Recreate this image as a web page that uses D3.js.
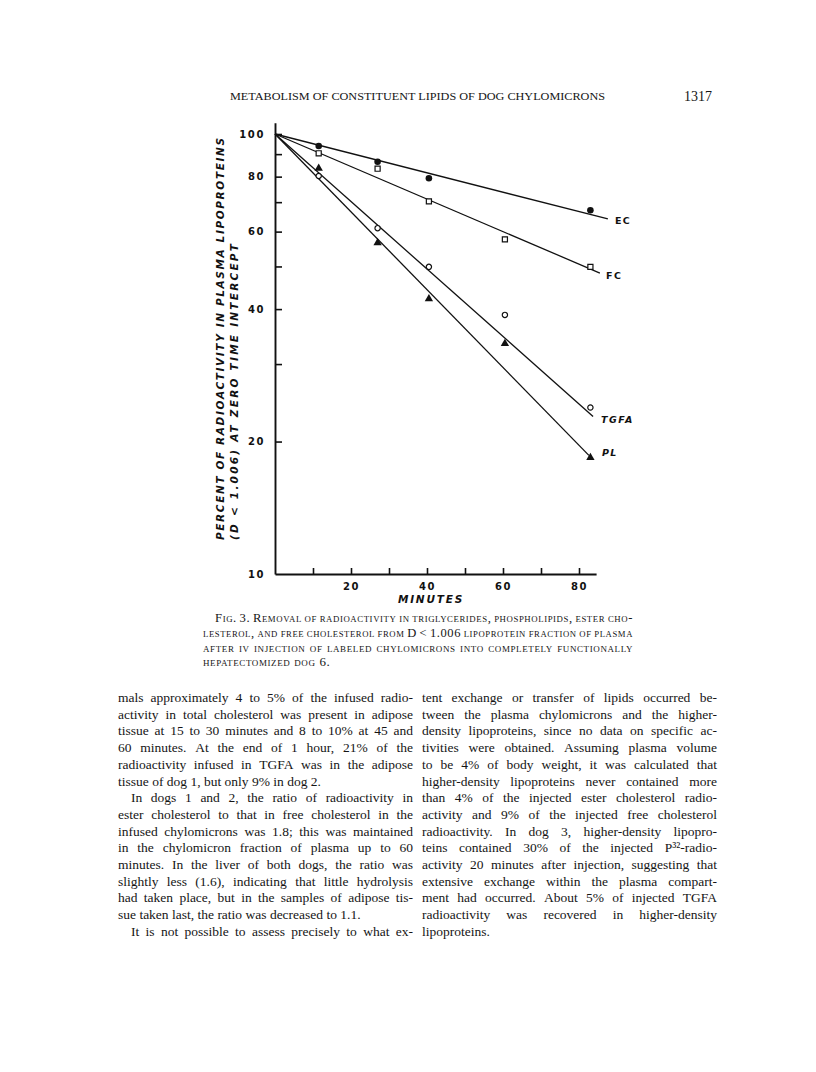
<!DOCTYPE html>
<html>
<head>
<meta charset="utf-8">
<script src="https://cdn.jsdelivr.net/npm/d3@7"></script>
<style>
  html, body { margin: 0; padding: 0; background: #fff; }
  svg { display: block; }
  .body-text { font-family: "Liberation Serif", "DejaVu Serif", serif; font-size: 13.5px; fill: #151515; }
  .caption { font-family: "Liberation Serif", serif; font-size: 13px; font-variant: small-caps; letter-spacing: 0.6px; fill: #151515; }
  .lettering { font-family: "DejaVu Sans", sans-serif; font-weight: bold; fill: #111; }
</style>
</head>
<body>
<div id="page"></div>
<script>
// page header
const headerTitle = "METABOLISM OF CONSTITUENT LIPIDS OF DOG CHYLOMICRONS";
const pageNumber = "1317";

// sampling times (minutes), shared by all four series
const minutes = [11.5, 27, 40.5, 60.5, 83];
// percent of radioactivity at zero time intercept, null where no point is drawn
const ecValues = [93.9, 86.5, 79.3, null, 67.1];
const fcValues = [90.4, 83.4, 70.3, 57.6, 49.9];
const tgfaValues = [80.3, 61.1, 49.9, 38.8, 23.9];
const plValues = [83.6, 56.6, 42.2, 33.4, 18.4];

// fitted regression lines all start at (0, 100)
const seriesNames = ["EC", "FC", "TGFA", "PL"];
const fitEndMinutes = [87.6, 85.5, 83.7, 82.6];
const fitEndValues = [64.1, 48.3, 22.8, 18.6];

// axes
const yTickValues = [100, 90, 80, 70, 60, 50, 40, 30, 20, 10];
const yTickLabels = ["100", "80", "60", "40", "20", "10"];
const xTickValues = [10, 20, 30, 40, 50, 60, 70, 80];
const xTickLabels = ["20", "40", "60", "80"];
const xTitle = "MINUTES";
const yTitleLines = ["PERCENT OF RADIOACTIVITY IN PLASMA LIPOPROTEINS", "(D < 1.006) AT ZERO TIME INTERCEPT"];

// figure legend (set in small caps)
const captionLines = [
    "Fig. 3.  Removal of radioactivity in triglycerides, phospholipids, ester cho-",
    "lesterol, and free cholesterol from D < 1.006 lipoprotein fraction of plasma",
    "after iv injection of labeled chylomicrons into completely functionally",
    "hepatectomized dog 6."
];

// running text, one entry per printed line
const leftColumn = [
    "mals approximately 4 to 5% of the infused radio-",
    "activity in total cholesterol was present in adipose",
    "tissue at 15 to 30 minutes and 8 to 10% at 45 and",
    "60 minutes.  At the end of 1 hour, 21% of the",
    "radioactivity infused in TGFA was in the adipose",
    "tissue of dog 1, but only 9% in dog 2.",
    "In dogs 1 and 2, the ratio of radioactivity in",
    "ester cholesterol to that in free cholesterol in the",
    "infused chylomicrons was 1.8; this was maintained",
    "in the chylomicron fraction of plasma up to 60",
    "minutes.  In the liver of both dogs, the ratio was",
    "slightly less (1.6), indicating that little hydrolysis",
    "had taken place, but in the samples of adipose tis-",
    "sue taken last, the ratio was decreased to 1.1.",
    "It is not possible to assess precisely to what ex-"
];
const leftIndentRows = [6, 14];
const leftLastRows = [5, 13];

const rightColumn = [
    "tent exchange or transfer of lipids occurred be-",
    "tween the plasma chylomicrons and the higher-",
    "density lipoproteins, since no data on specific ac-",
    "tivities were obtained.  Assuming plasma volume",
    "to be 4% of body weight, it was calculated that",
    "higher-density lipoproteins never contained more",
    "than 4% of the injected ester cholesterol radio-",
    "activity and 9% of the injected free cholesterol",
    "radioactivity.  In dog 3, higher-density lipopro-",
    "teins contained 30% of the injected P³²-radio-",
    "activity 20 minutes after injection, suggesting that",
    "extensive exchange within the plasma compart-",
    "ment had occurred.  About 5% of injected TGFA",
    "radioactivity was recovered in higher-density",
    "lipoproteins."
];
const rightIndentRows = [];
const rightLastRows = [14];

const width = 816, height = 1072;

const svg = d3.select("#page").append("svg")
    .attr("width", width)
    .attr("height", height);

svg.append("rect").attr("width", width).attr("height", height).attr("fill", "#fff");

// ---- running head
svg.append("text")
    .attr("x", 230).attr("y", 100)
    .attr("textLength", 375).attr("lengthAdjust", "spacingAndGlyphs")
    .style("font-family", "Liberation Serif, serif")
    .style("font-size", "11px")
    .style("fill", "#151515")
    .text(headerTitle);

svg.append("text")
    .attr("x", 712).attr("y", 101)
    .attr("text-anchor", "end")
    .style("font-family", "Liberation Serif, serif")
    .style("font-size", "14px")
    .style("fill", "#151515")
    .text(pageNumber);

// ---- chart
const x = d3.scaleLinear().domain([0, 80]).range([275, 579]);
const y = d3.scaleLog().domain([10, 100]).range([574, 134]);

const chart = svg.append("g");

// x axis, ticks pointing inwards
const xAxis = d3.axisBottom(x.copy().domain([0, 84.5]).range([x(0), x(84.5)]))
    .tickValues(xTickValues)
    .tickSizeInner(-6)
    .tickSizeOuter(0)
    .tickPadding(9)
    .tickFormat(d => xTickLabels.includes(String(d)) ? d : "");

const gx = chart.append("g")
    .attr("transform", `translate(0,${y(10)})`)
    .call(xAxis);

// y axis, log scale, ticks pointing inwards
const yAxisScale = y.copy().domain([10, 106]).range([y(10), y(106)]);
const yAxis = d3.axisLeft(yAxisScale)
    .tickValues(yTickValues)
    .tickSizeInner(-7)
    .tickSizeOuter(0)
    .tickPadding(10)
    .tickFormat(d => yTickLabels.includes(String(d)) ? d : "");

const gy = chart.append("g")
    .attr("transform", `translate(${x(0)},0)`)
    .call(yAxis);

gy.select(".tick:last-of-type line").remove();

[gx, gy].forEach(g => {
    g.select(".domain").attr("stroke", "#111").attr("stroke-width", 1.9);
    g.selectAll(".tick line").attr("stroke", "#111").attr("stroke-width", 1.6);
    g.selectAll(".tick text")
        .attr("class", "lettering")
        .style("font-size", "10px")
        .style("letter-spacing", "1.6px");
});

// axis titles
chart.append("text")
    .attr("class", "lettering")
    .attr("x", 431).attr("y", 603)
    .attr("text-anchor", "middle")
    .style("font-size", "10.5px")
    .style("font-style", "italic")
    .style("letter-spacing", "1.8px")
    .text(xTitle);

const yTitleX = [224, 238];
const yTitleLen = [402, 296];
yTitleLines.forEach((t, i) => {
    chart.append("text")
        .attr("class", "lettering")
        .attr("transform", `translate(${yTitleX[i]},540) rotate(-90)`)
        .attr("textLength", yTitleLen[i])
        .attr("lengthAdjust", "spacing")
        .style("font-size", "10.5px")
        .style("font-style", "italic")
        .text(t);
});

// fitted lines
const fitLine = d3.line().x(d => x(d[0])).y(d => y(d[1]));
const fits = seriesNames.map((name, i) => ({
    name,
    pts: [[0, 100], [fitEndMinutes[i], fitEndValues[i]]]
}));

chart.selectAll(".fit")
    .data(fits)
    .enter().append("path")
    .attr("class", "fit")
    .attr("d", d => fitLine(d.pts))
    .attr("fill", "none")
    .attr("stroke", "#111")
    .attr("stroke-width", 1.3);

// line labels, placed just past the end of each line
const labelOffset = { EC: [7, 5], FC: [6, 6], TGFA: [8, 6], PL: [13, 1] };
const labelItalic = { EC: false, FC: false, TGFA: true, PL: true };
chart.selectAll(".fit-label")
    .data(fits)
    .enter().append("text")
    .attr("class", "lettering")
    .attr("x", d => x(d.pts[1][0]) + labelOffset[d.name][0])
    .attr("y", d => y(d.pts[1][1]) + labelOffset[d.name][1])
    .style("font-size", "9.5px")
    .style("letter-spacing", "1.5px")
    .style("font-style", d => labelItalic[d.name] ? "italic" : "normal")
    .text(d => d.name);

// data points
const markerStyle = {
    EC:   { type: d3.symbolCircle, size: 34, fill: "#111", stroke: "none" },
    FC:   { type: d3.symbolSquare, size: 26, fill: "#fff", stroke: "#111" },
    TGFA: { type: d3.symbolCircle, size: 22, fill: "#fff", stroke: "#111" },
    PL:   { type: d3.symbolTriangle, size: 30, fill: "#111", stroke: "none" }
};
const seriesValues = { EC: ecValues, FC: fcValues, TGFA: tgfaValues, PL: plValues };

seriesNames.forEach(name => {
    const st = markerStyle[name];
    const pts = minutes.map((m, i) => [m, seriesValues[name][i]]).filter(p => p[1] != null);
    chart.selectAll(".pt-" + name)
        .data(pts)
        .enter().append("path")
        .attr("class", "pt-" + name)
        .attr("transform", d => `translate(${x(d[0])},${y(d[1])})`)
        .attr("d", d3.symbol().type(st.type).size(st.size))
        .attr("fill", st.fill)
        .attr("stroke", st.stroke)
        .attr("stroke-width", 1.2);
});

// ---- justified text blocks
function setJustified(lines, x0, w, y0, lh, cls, indentRows, lastRows, indent) {
    const block = svg.append("g");
    lines.forEach((line, i) => {
        const words = line.split(/\s+/);
        const row = block.append("g");
        const texts = words.map(wd => row.append("text")
            .attr("class", cls)
            .attr("y", y0 + i * lh)
            .text(wd));
        const widths = texts.map(t => t.node().getComputedTextLength());
        const space = row.append("text").attr("class", cls).text("a a").node().getComputedTextLength()
            - row.append("text").attr("class", cls).text("aa").node().getComputedTextLength();
        row.selectAll("text").filter(function () { return !this.hasAttribute("y"); }).remove();
        const start = x0 + (indentRows.includes(i) ? indent : 0);
        const total = d3.sum(widths);
        let gap = space;
        if (!lastRows.includes(i) && words.length > 1) {
            gap = (x0 + w - start - total) / (words.length - 1);
        }
        let scale = 1;
        if (gap < space * 0.7) {
            gap = space * 0.7;
            scale = (x0 + w - start - gap * (words.length - 1)) / total;
        }
        let cx = start;
        texts.forEach((t, j) => {
            t.attr("x", cx);
            if (scale < 1) {
                t.attr("textLength", widths[j] * scale).attr("lengthAdjust", "spacingAndGlyphs");
            }
            cx += widths[j] * scale + gap;
        });
    });
}

setJustified(captionLines, 203, 430, 622, 14.8, "caption", [0], [3], 12);
setJustified(leftColumn, 118, 295, 702, 16.7, "body-text", leftIndentRows, leftLastRows, 13);
setJustified(rightColumn, 422, 295, 702, 16.7, "body-text", rightIndentRows, rightLastRows, 13);
</script>
</body>
</html>
